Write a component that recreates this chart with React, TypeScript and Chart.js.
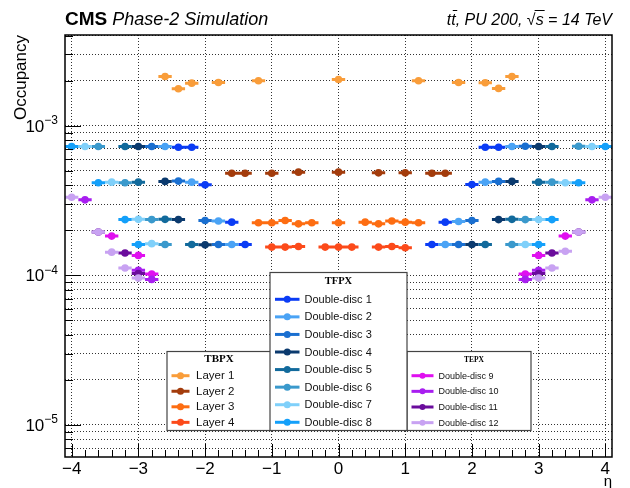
import React, { useEffect, useRef } from "react";
import { Chart, registerables } from "chart.js";

Chart.register(...registerables);

// ---------- axes ----------
const X_MIN = -4.1;
const X_MAX = 4.1;
const Y_MIN = 6.1e-6;
const Y_MAX = 4.05e-3;
const X_MAJOR_TICKS = [-4, -3, -2, -1, 0, 1, 2, 3, 4];
const X_TICK_LABELS = ["\u22124", "\u22123", "\u22122", "\u22121", "0", "1", "2", "3", "4"];
const Y_DECADES = [-5, -4, -3];
const Y_TICK_EXPONENTS = ["\u22125", "\u22124", "\u22123"];
const BIN_HALF_WIDTH = 0.1;

// ---------- TBPX ----------
const layer1Eta = [-2.6, -2.4, -2.2, -1.8, -1.2, 0, 1.2, 1.8, 2.2, 2.4, 2.6];
const layer1Occ = [2.14e-3, 1.77e-3, 1.93e-3, 1.95e-3, 2.0e-3, 2.04e-3, 2.0e-3, 1.95e-3, 1.94e-3, 1.78e-3, 2.14e-3];
const layer2Eta = [-1.6, -1.4, -1.0, -0.6, 0, 0.6, 1.0, 1.4, 1.6];
const layer2Occ = [4.82e-4, 4.82e-4, 4.82e-4, 4.9e-4, 4.9e-4, 4.85e-4, 4.85e-4, 4.82e-4, 4.82e-4];
const layer3Eta = [-1.2, -1.0, -0.8, -0.6, -0.4, 0, 0.4, 0.6, 0.8, 1.0, 1.2];
const layer3Occ = [2.25e-4, 2.25e-4, 2.33e-4, 2.21e-4, 2.25e-4, 2.25e-4, 2.27e-4, 2.21e-4, 2.31e-4, 2.27e-4, 2.25e-4];
const layer4Eta = [-1.0, -0.8, -0.6, -0.2, 0, 0.2, 0.6, 0.8, 1.0];
const layer4Occ = [1.545e-4, 1.545e-4, 1.56e-4, 1.545e-4, 1.545e-4, 1.545e-4, 1.545e-4, 1.56e-4, 1.53e-4];

// ---------- TFPX ----------
const dd1Eta = [-2.4, -2.2, -2.0, -1.6, -1.4, 1.4, 1.6, 2.0, 2.2, 2.4];
const dd1Occ = [7.19e-4, 7.19e-4, 4.03e-4, 2.27e-4, 1.61e-4, 1.61e-4, 2.27e-4, 4.05e-4, 7.19e-4, 7.19e-4];
const dd2Eta = [-2.6, -2.2, -1.8, -1.6, 1.6, 1.8, 2.2, 2.6];
const dd2Occ = [7.27e-4, 4.2e-4, 2.31e-4, 1.61e-4, 1.61e-4, 2.29e-4, 4.2e-4, 7.27e-4];
const dd3Eta = [-2.8, -2.4, -2.0, -1.8, 1.8, 2.0, 2.4, 2.8];
const dd3Occ = [7.27e-4, 4.27e-4, 2.33e-4, 1.61e-4, 1.61e-4, 2.33e-4, 4.25e-4, 7.31e-4];
const dd4Eta = [-3.0, -2.6, -2.4, -2.0, 2.0, 2.4, 2.6, 3.0];
const dd4Occ = [7.27e-4, 4.25e-4, 2.36e-4, 1.6e-4, 1.61e-4, 2.36e-4, 4.25e-4, 7.27e-4];
const dd5Eta = [-3.2, -3.0, -2.6, -2.2, 2.2, 2.6, 3.0, 3.2];
const dd5Occ = [7.27e-4, 4.2e-4, 2.37e-4, 1.61e-4, 1.61e-4, 2.37e-4, 4.2e-4, 7.27e-4];
const dd6Eta = [-3.6, -3.2, -2.8, -2.6, 2.6, 2.8, 3.2, 3.6];
const dd6Occ = [7.27e-4, 4.16e-4, 2.36e-4, 1.61e-4, 1.61e-4, 2.36e-4, 4.2e-4, 7.31e-4];
const dd7Eta = [-3.8, -3.4, -3.0, -2.8, 2.8, 3.0, 3.4, 3.8];
const dd7Occ = [7.27e-4, 4.2e-4, 2.37e-4, 1.63e-4, 1.61e-4, 2.36e-4, 4.16e-4, 7.27e-4];
const dd8Eta = [-4.0, -3.6, -3.2, -3.0, 3.0, 3.2, 3.6, 4.0];
const dd8Occ = [7.27e-4, 4.16e-4, 2.36e-4, 1.61e-4, 1.61e-4, 2.36e-4, 4.16e-4, 7.27e-4];

// ---------- TEPX ----------
const dd9Eta = [-3.4, -3.0, -2.8, 2.8, 3.0, 3.4];
const dd9Occ = [1.83e-4, 1.36e-4, 1.02e-4, 1.02e-4, 1.36e-4, 1.83e-4];
const dd10Eta = [-3.8, -3.0, -2.8, 2.8, 3.0, 3.8];
const dd10Occ = [3.2e-4, 1.08e-4, 9.4e-5, 9.4e-5, 1.08e-4, 3.2e-4];
const dd11Eta = [-3.6, -3.2, -3.0, 3.0, 3.2, 3.6];
const dd11Occ = [1.95e-4, 1.41e-4, 1.03e-4, 1.03e-4, 1.41e-4, 1.95e-4];
const dd12Eta = [-4.0, -3.6, -3.4, -3.2, -3.0, 3.0, 3.2, 3.4, 3.6, 4.0];
const dd12Occ = [3.33e-4, 1.95e-4, 1.43e-4, 1.12e-4, 9.6e-5, 9.6e-5, 1.12e-4, 1.45e-4, 1.95e-4, 3.33e-4];

type Series = { group: string; label: string; color: string; eta: number[]; occ: number[] };

const SERIES: Series[] = [
  { group: "TBPX", label: "Layer 1", color: "#f99d3a", eta: layer1Eta, occ: layer1Occ },
  { group: "TBPX", label: "Layer 2", color: "#a33c0c", eta: layer2Eta, occ: layer2Occ },
  { group: "TBPX", label: "Layer 3", color: "#fd6d12", eta: layer3Eta, occ: layer3Occ },
  { group: "TBPX", label: "Layer 4", color: "#fc4a1a", eta: layer4Eta, occ: layer4Occ },
  { group: "TFPX", label: "Double-disc 1", color: "#0b3cf5", eta: dd1Eta, occ: dd1Occ },
  { group: "TFPX", label: "Double-disc 2", color: "#4aa3f5", eta: dd2Eta, occ: dd2Occ },
  { group: "TFPX", label: "Double-disc 3", color: "#1a6fd0", eta: dd3Eta, occ: dd3Occ },
  { group: "TFPX", label: "Double-disc 4", color: "#0b3a6e", eta: dd4Eta, occ: dd4Occ },
  { group: "TFPX", label: "Double-disc 5", color: "#126a9c", eta: dd5Eta, occ: dd5Occ },
  { group: "TFPX", label: "Double-disc 6", color: "#3a99cc", eta: dd6Eta, occ: dd6Occ },
  { group: "TFPX", label: "Double-disc 7", color: "#7fd0fa", eta: dd7Eta, occ: dd7Occ },
  { group: "TFPX", label: "Double-disc 8", color: "#14a0fa", eta: dd8Eta, occ: dd8Occ },
  { group: "TEPX", label: "Double-disc 9", color: "#e010f0", eta: dd9Eta, occ: dd9Occ },
  { group: "TEPX", label: "Double-disc 10", color: "#a81ef0", eta: dd10Eta, occ: dd10Occ },
  { group: "TEPX", label: "Double-disc 11", color: "#6a0c9c", eta: dd11Eta, occ: dd11Occ },
  { group: "TEPX", label: "Double-disc 12", color: "#c8a2f2", eta: dd12Eta, occ: dd12Occ },
];

const SANS = '"Liberation Sans", Arial, Helvetica, sans-serif';
const SERIF = '"Liberation Serif", "Times New Roman", serif';
const GRID_COLOR = "rgba(0,0,0,0.8)";

function isDecade(v: number) {
  const l = Math.log10(v);
  return Math.abs(l - Math.round(l)) < 1e-6;
}

type LegendBox = {
  group: string;
  x0: number; y0: number; x1: number; y1: number;
  titleX: number; titleY: number; titleFont: string;
  rowY0: number; rowStep: number;
  lineX0: number; lineX1: number; textX: number; textFont: string; markerR: number;
};

const LEGENDS: LegendBox[] = [
  { group: "TBPX", x0: 167, y0: 351.5, x1: 271, y1: 430.5, titleX: 219, titleY: 359.5, titleFont: `bold 11px ${SERIF}`,
    rowY0: 375.7, rowStep: 15.55, lineX0: 171.5, lineX1: 189.5, textX: 196, textFont: `11.5px ${SANS}`, markerR: 3.5 },
  { group: "TEPX", x0: 407, y0: 351.5, x1: 531, y1: 430.5, titleX: 474, titleY: 360, titleFont: `bold 7.5px ${SERIF}`,
    rowY0: 375.7, rowStep: 15.65, lineX0: 411.5, lineX1: 433.5, textX: 438.5, textFont: `9px ${SANS}`, markerR: 3 },
  { group: "TFPX", x0: 270, y0: 272.5, x1: 407, y1: 430.5, titleX: 338.5, titleY: 281.5, titleFont: `bold 10.5px ${SERIF}`,
    rowY0: 299.3, rowStep: 17.57, lineX0: 275, lineX1: 299.5, textX: 304.5, textFont: `11px ${SANS}`, markerR: 3.5 },
];

const decorPlugin = {
  id: "decor",
  afterDraw(chart: any) {
    const ctx: CanvasRenderingContext2D = chart.ctx;
    const a = chart.chartArea;
    const xs = chart.scales.x;
    const ys = chart.scales.y;
    ctx.save();

    // legends
    for (const L of LEGENDS) {
      ctx.fillStyle = "#fff";
      ctx.fillRect(L.x0, L.y0, L.x1 - L.x0, L.y1 - L.y0);
      ctx.strokeStyle = "#444";
      ctx.lineWidth = 1.2;
      ctx.strokeRect(L.x0, L.y0, L.x1 - L.x0, L.y1 - L.y0);
      ctx.fillStyle = "#000";
      ctx.font = L.titleFont;
      ctx.textAlign = "center";
      ctx.textBaseline = "middle";
      ctx.fillText(L.group, L.titleX, L.titleY);
      const items = SERIES.filter((s) => s.group === L.group);
      items.forEach((s, i) => {
        const y = L.rowY0 + i * L.rowStep;
        ctx.strokeStyle = s.color;
        ctx.lineWidth = 3;
        ctx.beginPath();
        ctx.moveTo(L.lineX0, y);
        ctx.lineTo(L.lineX1, y);
        ctx.stroke();
        ctx.fillStyle = s.color;
        ctx.beginPath();
        ctx.arc((L.lineX0 + L.lineX1) / 2, y, L.markerR, 0, Math.PI * 2);
        ctx.fill();
        ctx.fillStyle = "#111";
        ctx.font = L.textFont;
        ctx.textAlign = "left";
        ctx.textBaseline = "middle";
        ctx.fillText(s.label, L.textX, y + 0.5);
      });
    }

    // frame
    ctx.strokeStyle = "#000";
    ctx.lineWidth = 1.5;
    ctx.strokeRect(a.left, a.top, a.right - a.left, a.bottom - a.top);

    // inside tick marks
    ctx.lineWidth = 1;
    ctx.beginPath();
    for (const t of ys.ticks) {
      const y = Math.round(ys.getPixelForValue(t.value)) + 0.5;
      const len = isDecade(t.value) ? 16 : 8;
      ctx.moveTo(a.left, y);
      ctx.lineTo(a.left + len, y);
    }
    for (let k = -20; k <= 20; k++) {
      const x = Math.round(xs.getPixelForValue(k / 5)) + 0.5;
      const len = k % 5 === 0 ? 13 : 7;
      ctx.moveTo(x, a.bottom);
      ctx.lineTo(x, a.bottom - len);
    }
    ctx.stroke();

    // x tick labels
    ctx.fillStyle = "#000";
    ctx.font = `17px ${SANS}`;
    ctx.textAlign = "center";
    ctx.textBaseline = "alphabetic";
    X_MAJOR_TICKS.forEach((v, i) => {
      ctx.fillText(X_TICK_LABELS[i], xs.getPixelForValue(v), a.bottom + 16.5);
    });

    // y tick labels 10^n
    Y_DECADES.forEach((d, i) => {
      const y = ys.getPixelForValue(Math.pow(10, d));
      ctx.font = `12px ${SANS}`;
      ctx.textAlign = "right";
      const ew = ctx.measureText(Y_TICK_EXPONENTS[i]).width;
      ctx.fillText(Y_TICK_EXPONENTS[i], 58, y - 1.5);
      ctx.font = `17px ${SANS}`;
      ctx.fillText("10", 58 - ew, y + 6);
    });

    // axis titles
    ctx.font = `15px ${SANS}`;
    ctx.textAlign = "right";
    ctx.fillText("\u03b7", a.right, 486);

    ctx.save();
    ctx.translate(25.5, a.top);
    ctx.rotate(-Math.PI / 2);
    ctx.font = `17px ${SANS}`;
    ctx.textAlign = "right";
    ctx.textBaseline = "alphabetic";
    ctx.fillText("Occupancy", 0, 0);
    ctx.restore();

    // header left
    ctx.textAlign = "left";
    ctx.textBaseline = "alphabetic";
    ctx.font = `bold 19px ${SANS}`;
    ctx.fillText("CMS", 65, 25);
    const cw = ctx.measureText("CMS").width;
    ctx.font = `italic 18px ${SANS}`;
    ctx.fillText("Phase-2 Simulation", 65 + cw + 5, 25);

    // header right: t tbar, PU 200, sqrt(s) = 14 TeV
    ctx.font = `italic 16px ${SANS}`;
    const parts = ["t", "t", ", PU 200, ", "\u221a", "s", " = 14 TeV"];
    const widths = parts.map((p) => ctx.measureText(p).width);
    const total = widths.reduce((s, w) => s + w, 0);
    let x = a.right - total;
    const base = 25;
    const starts: number[] = [];
    parts.forEach((p, i) => {
      starts.push(x);
      ctx.fillText(p, x, base);
      x += widths[i];
    });
    ctx.strokeStyle = "#000";
    ctx.lineWidth = 1;
    ctx.beginPath();
    ctx.moveTo(starts[1] + 1.5, base - 14.5);
    ctx.lineTo(starts[1] + widths[1] + 1.5, base - 14.5);
    ctx.moveTo(starts[3] + widths[3] - 1, base - 14.5);
    ctx.lineTo(starts[4] + widths[4] + 1, base - 14.5);
    ctx.stroke();

    ctx.restore();
  },
};

export default function App() {
  const ref = useRef<HTMLCanvasElement>(null);
  useEffect(() => {
    const canvas = ref.current;
    if (!canvas) return;
    const datasets: any[] = [];
    SERIES.forEach((s, i) => {
      const bars: any[] = [];
      s.eta.forEach((e, j) => {
        bars.push({ x: e - BIN_HALF_WIDTH, y: s.occ[j] });
        bars.push({ x: e + BIN_HALF_WIDTH, y: s.occ[j] });
        bars.push({ x: e + BIN_HALF_WIDTH, y: null });
      });
      // later series are drawn on top (lower order = drawn later)
      datasets.push({
        type: "line",
        label: s.label + " bins",
        data: bars,
        borderColor: s.color,
        backgroundColor: s.color,
        borderWidth: 3,
        borderCapStyle: "butt",
        pointRadius: 0,
        pointHoverRadius: 0,
        spanGaps: false,
        tension: 0,
        fill: false,
        order: 100 - 2 * i,
      });
      datasets.push({
        type: "scatter",
        label: s.label,
        data: s.eta.map((e, j) => ({ x: e, y: s.occ[j] })),
        pointRadius: 3.8,
        pointHoverRadius: 3.8,
        pointBackgroundColor: s.color,
        pointBorderColor: s.color,
        pointBorderWidth: 0,
        order: 99 - 2 * i,
      });
    });

    const chart = new Chart(canvas, {
      type: "scatter",
      data: { datasets },
      options: {
        responsive: false,
        maintainAspectRatio: false,
        animation: false,
        events: [],
        layout: { padding: { left: 65, top: 35, right: 18, bottom: 31 } },
        plugins: {
          legend: { display: false },
          tooltip: { enabled: false },
          title: { display: false },
        },
        scales: {
          x: {
            type: "linear",
            min: X_MIN,
            max: X_MAX,
            afterBuildTicks: (s: any) => {
              s.ticks = X_MAJOR_TICKS.map((v) => ({ value: v }));
            },
            afterFit: (s: any) => {
              s.height = 0;
            },
            ticks: { display: false },
            grid: { color: GRID_COLOR, lineWidth: 1, drawTicks: false },
            border: { display: false, dash: [1, 2] },
          },
          y: {
            type: "logarithmic",
            min: Y_MIN,
            max: Y_MAX,
            afterBuildTicks: (s: any) => {
              const t: any[] = [];
              for (let d = -6; d <= -2; d++) {
                for (let k = 1; k <= 9; k++) {
                  const v = k * Math.pow(10, d);
                  if (v >= Y_MIN && v <= Y_MAX) t.push({ value: v });
                }
              }
              s.ticks = t;
            },
            afterFit: (s: any) => {
              s.width = 0;
            },
            ticks: { display: false },
            grid: { color: GRID_COLOR, lineWidth: 1, drawTicks: false },
            border: { display: false, dash: [1, 2] },
          },
        },
      } as any,
      plugins: [decorPlugin],
    });
    return () => chart.destroy();
  }, []);

  return (
    <div style={{ position: "fixed", left: 0, top: 0, width: 630, height: 488, background: "#fff" }}>
      <canvas ref={ref} width={630} height={488} style={{ display: "block", width: 630, height: 488 }} />
    </div>
  );
}
